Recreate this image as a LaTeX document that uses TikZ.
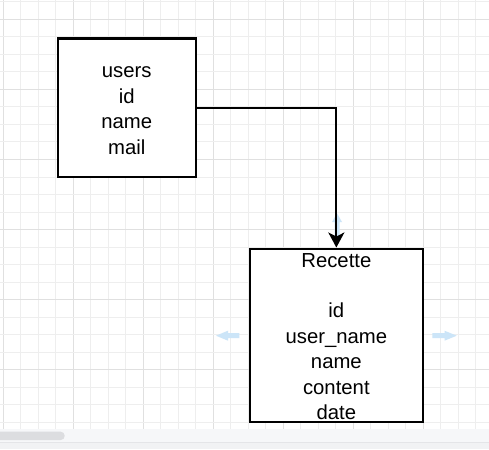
\documentclass[tikz,border=0pt]{standalone}
\usepackage{fontspec}
\setmainfont{Liberation Sans}
\usetikzlibrary{arrows.meta}
\definecolor{gridminor}{RGB}{238,238,238}
\definecolor{gridmajor}{RGB}{224,224,224}
\definecolor{hintblue}{RGB}{204,229,248}
\definecolor{barbg}{RGB}{246,247,249}
\definecolor{barline}{RGB}{228,229,232}
\definecolor{barbot}{RGB}{241,242,244}
\definecolor{thumb}{RGB}{220,221,224}
\tikzset{
  entity/.style={draw=black, line width=2.4pt, fill=white},
  entitytext/.style={align=center, inner sep=0pt, font=\fontsize{20.3}{25.4}\selectfont, text=black},
  link/.style={draw=black, line width=2pt, -{Stealth[length=15pt,width=16pt,inset=4pt]}},
  hint/.style={fill=hintblue, draw=none}
}
\begin{document}
\begin{tikzpicture}[x=1pt,y=-1pt]
\useasboundingbox (0,0) rectangle (489,449);
\fill[white] (0,0) rectangle (489,449);
% grid
\foreach \k in {0,...,27} {
  \pgfmathsetmacro{\xx}{3.3+17.5*\k}
  \pgfmathtruncatemacro{\mm}{mod(\k,4)}
  \ifnum\mm=0 \draw[gridmajor, line width=1pt] (\xx,0) -- (\xx,429);
  \else \draw[gridminor, line width=1pt] (\xx,0) -- (\xx,429); \fi
}
\foreach \k in {0,...,24} {
  \pgfmathsetmacro{\yy}{2+17.5*\k}
  \pgfmathtruncatemacro{\mm}{mod(\k,4)}
  \ifnum\mm=1 \draw[gridmajor, line width=1pt] (0,\yy) -- (489,\yy);
  \else \draw[gridminor, line width=1pt] (0,\yy) -- (489,\yy); \fi
}
% scroll bar area
\fill[barbg] (0,429) rectangle (489,442);
\fill[barbot] (0,442) rectangle (489,449);
\draw[barline, line width=1pt] (0,442.3) -- (489,442.3);
\fill[thumb, rounded corners=4pt] (-5,431.7) rectangle (64.7,440);
% hover hint arrows
\fill[hint] (337,213.3) -- (342,222) -- (339.5,222) -- (339.5,236) -- (334.5,236) -- (334.5,222) -- (332,222) -- cycle;
\fill[hint] (216,335.7) -- (228,330.7) -- (228,333.2) -- (239.3,333.2) -- (239.3,338.2) -- (228,338.2) -- (228,340.7) -- cycle;
\fill[hint] (456.7,335.7) -- (444.5,330.7) -- (444.5,333.2) -- (432.3,333.2) -- (432.3,338.2) -- (444.5,338.2) -- (444.5,340.7) -- cycle;
% entities
\node[entity, minimum width=138pt, minimum height=138pt] (users) at (126.7,107.7) {};
\node[entitytext] (userstext) at ([yshift=-3pt]users.center) {users\\id\\name\\mail};
\node[entity, minimum width=173.3pt, minimum height=173.3pt] (recette) at (336.35,335.35) {};
\node[entitytext] (recettetext) at ([yshift=-1pt]recette.center) {Recette\\[25.4pt]id\\user\_name\\name\\content\\date};
% connector
\draw[link] (users.east) -| (recette.north);
\end{tikzpicture}
\end{document}
